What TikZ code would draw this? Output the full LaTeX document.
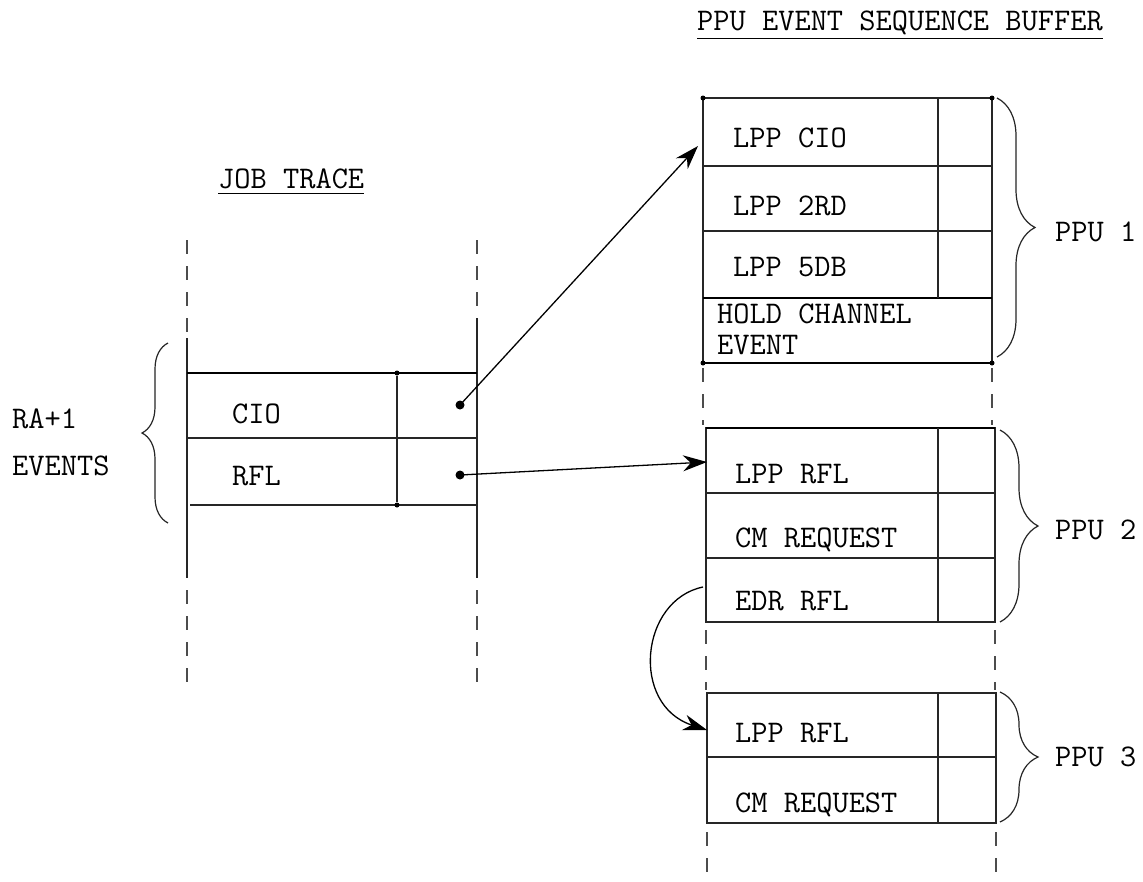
\documentclass[tikz,border=0pt]{standalone}
\usepackage{fontspec}
\usetikzlibrary{decorations.pathreplacing,arrows.meta}
\newcommand{\twfont}{\fontsize{31.5}{36}\selectfont\ttfamily\addfontfeatures{FakeBold=0.6}}
\begin{document}
\begin{tikzpicture}[x=1pt,y=-1pt,
  txt/.style={anchor=base west,inner sep=0pt,font=\twfont},
  ln/.style={line width=1.1pt,black!85},
  thk/.style={line width=2pt,black},
  dsh/.style={line width=1.1pt,black!70,dash pattern=on 14pt off 12pt},
  brc/.style={decorate,decoration={brace,amplitude=#1},line width=1.2pt,black!85},
  arr/.style={-{Stealth[length=24pt,width=16pt]},line width=1.3pt},
  dotn/.style={circle,fill,inner sep=0pt,minimum size=9pt},
  sdot/.style={circle,fill,inner sep=0pt,minimum size=5pt}]
\fill[white] (0,0) rectangle (1143,881);
\useasboundingbox (0,0) rectangle (1143,881);

% titles
\node[txt] (hdr) at (697,30) {PPU EVENT SEQUENCE BUFFER};
\draw[line width=1.6pt] ([yshift=-4pt]hdr.south west) -- ([yshift=-4pt]hdr.south east);
\node[txt] (jt) at (218,188) {JOB TRACE};
\draw[line width=1.6pt] ([yshift=-5pt]jt.south west) -- ([yshift=-5pt]jt.south east);

% job trace
\draw[dsh] (187,240) -- (187,335);
\draw[ln] (187,338) -- (187,578);
\draw[dsh] (187,590) -- (187,682);
\draw[dsh] (477,240) -- (477,312);
\draw[ln] (477,318) -- (477,578);
\draw[dsh] (477,590) -- (477,682);
\draw[thk] (187,373) -- (477,373);
\draw[ln] (187,438) -- (477,438);
\draw[ln] (190,505) -- (477,505);
\node[sdot] (iv1) at (397,373) {};
\node[sdot] (iv2) at (397,505) {};
\draw[ln] (iv1) -- (iv2);
\node[txt] (tcio) at (232,423) {CIO};
\node[txt] (trfl) at (232,485) {RFL};
\node[dotn] (dcio) at (460,405) {};
\node[dotn] (drfl) at (460,475) {};
\draw[brc=26pt] (168,523) -- (168,343);
\node[txt] (ra) at (12,428) {RA+1};
\node[txt] (ev) at (12,475) {EVENTS};

% box 1
\draw[ln] (703,98) rectangle (992,363);
\draw[ln] (703,166) -- (992,166);
\draw[ln] (703,231) -- (992,231);
\draw[thk] (703,298) -- (992,298);
\draw[thk] (703,363) -- (992,363);
\draw[ln] (938,98) -- (938,298);
\foreach \p in {(703,98),(992,98),(703,363),(992,363)} \node[sdot] at \p {};
\node[txt] at (733,147) {LPP CIO};
\node[txt] at (733,215) {LPP 2RD};
\node[txt] at (733,276) {LPP 5DB};
\node[txt] at (717,323) {HOLD CHANNEL};
\node[txt] at (717,354) {EVENT};
\draw[dsh] (703,368) -- (703,425);
\draw[dsh] (992,368) -- (992,425);
\draw[brc=38pt] (997,98) -- (997,357);
\node[txt] (p1) at (1055,241) {PPU 1};

% box 2
\draw[ln] (706,428) rectangle (995,622);
\draw[thk] (706,428) -- (995,428);
\draw[ln] (706,493) -- (995,493);
\draw[ln] (706,558) -- (995,558);
\draw[ln] (938,428) -- (938,622);
\node[txt] (b2a) at (735,483) {LPP RFL};
\node[txt] at (735,547) {CM REQUEST};
\node[txt] (b2c) at (735,610) {EDR RFL};
\draw[dsh] (706,630) -- (706,690);
\draw[dsh] (995,630) -- (995,690);
\draw[brc=38pt] (1000,430) -- (1000,622);
\node[txt] (p2) at (1055,539) {PPU 2};

% box 3
\draw[ln] (707,693) rectangle (996,823);
\draw[ln] (707,757) -- (996,757);
\draw[ln] (938,693) -- (938,823);
\node[txt] (b3a) at (735,742) {LPP RFL};
\node[txt] at (735,812) {CM REQUEST};
\draw[dsh] (707,832) -- (707,881);
\draw[dsh] (996,832) -- (996,881);
\draw[brc=38pt] (1000,692) -- (1000,822);
\node[txt] (p3) at (1055,766) {PPU 3};

% connectors
\coordinate (in1) at (698,146);
\coordinate (in2) at (707,462);
\coordinate (out3) at (703,587);
\coordinate (in3) at (707,730);
\draw[arr] (dcio.center) -- (in1);
\draw[arr] (drfl.center) -- (in2);
\draw[arr] (out3) .. controls (640,600) and (630,705) .. (in3);
\end{tikzpicture}
\end{document}
